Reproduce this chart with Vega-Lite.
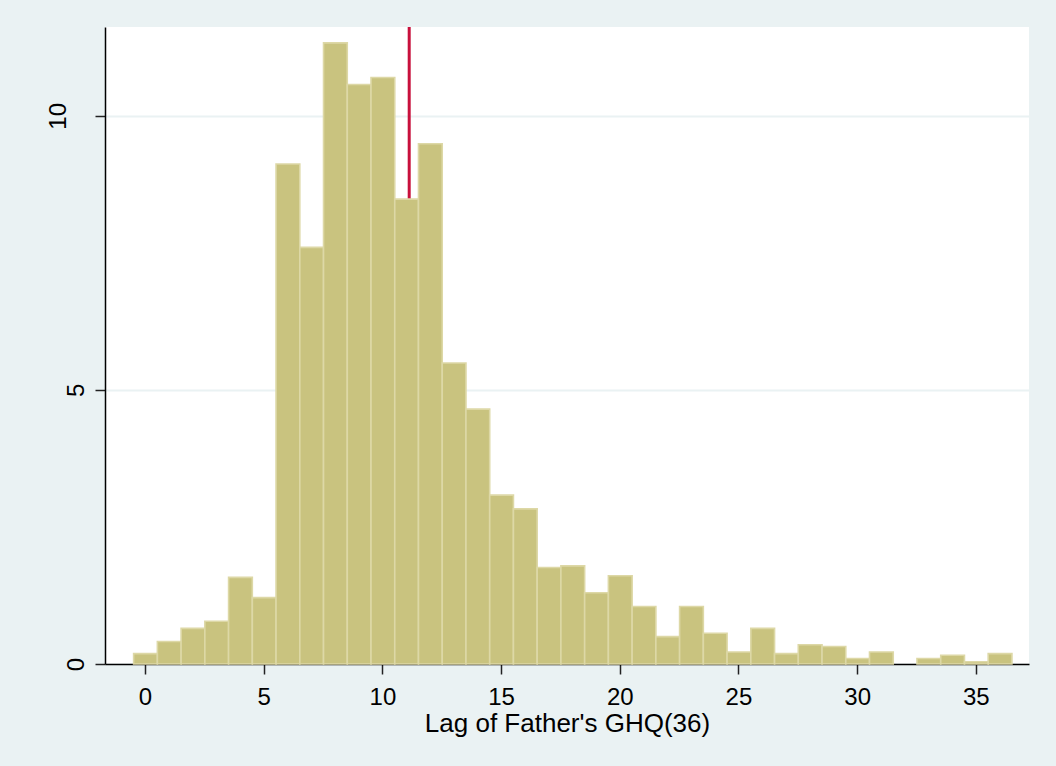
{
  "$schema": "https://vega.github.io/schema/vega-lite/v6.json",
  "autosize": "none",
  "width": 924,
  "height": 637,
  "padding": {"left": 105, "top": 27, "right": 27, "bottom": 102},
  "background": "#EAF2F3",
  "config": {
    "view": {"fill": "white", "stroke": null},
    "font": "Liberation Sans",
    "axis": {
      "labelFont": "Liberation Sans",
      "titleFont": "Liberation Sans",
      "labelColor": "black",
      "titleColor": "black",
      "domainColor": "black",
      "domainWidth": 1.5,
      "tickColor": "#222222",
      "tickWidth": 1.5
    }
  },
  "datasets": {
    "bins": [
      {"lo": -0.5, "hi": 0.5, "pct": 0.19},
      {"lo": 0.5, "hi": 1.5, "pct": 0.41},
      {"lo": 1.5, "hi": 2.5, "pct": 0.65},
      {"lo": 2.5, "hi": 3.5, "pct": 0.78},
      {"lo": 3.5, "hi": 4.5, "pct": 1.58},
      {"lo": 4.5, "hi": 5.5, "pct": 1.21},
      {"lo": 5.5, "hi": 6.5, "pct": 9.12},
      {"lo": 6.5, "hi": 7.5, "pct": 7.60},
      {"lo": 7.5, "hi": 8.5, "pct": 11.33},
      {"lo": 8.5, "hi": 9.5, "pct": 10.57},
      {"lo": 9.5, "hi": 10.5, "pct": 10.70},
      {"lo": 10.5, "hi": 11.5, "pct": 8.48},
      {"lo": 11.5, "hi": 12.5, "pct": 9.49},
      {"lo": 12.5, "hi": 13.5, "pct": 5.49},
      {"lo": 13.5, "hi": 14.5, "pct": 4.65},
      {"lo": 14.5, "hi": 15.5, "pct": 3.08},
      {"lo": 15.5, "hi": 16.5, "pct": 2.83},
      {"lo": 16.5, "hi": 17.5, "pct": 1.76},
      {"lo": 17.5, "hi": 18.5, "pct": 1.79},
      {"lo": 18.5, "hi": 19.5, "pct": 1.30},
      {"lo": 19.5, "hi": 20.5, "pct": 1.61},
      {"lo": 20.5, "hi": 21.5, "pct": 1.05},
      {"lo": 21.5, "hi": 22.5, "pct": 0.50},
      {"lo": 22.5, "hi": 23.5, "pct": 1.05},
      {"lo": 23.5, "hi": 24.5, "pct": 0.56},
      {"lo": 24.5, "hi": 25.5, "pct": 0.22},
      {"lo": 25.5, "hi": 26.5, "pct": 0.65},
      {"lo": 26.5, "hi": 27.5, "pct": 0.19},
      {"lo": 27.5, "hi": 28.5, "pct": 0.35},
      {"lo": 28.5, "hi": 29.5, "pct": 0.32},
      {"lo": 29.5, "hi": 30.5, "pct": 0.10},
      {"lo": 30.5, "hi": 31.5, "pct": 0.22},
      {"lo": 32.5, "hi": 33.5, "pct": 0.10},
      {"lo": 33.5, "hi": 34.5, "pct": 0.16},
      {"lo": 34.5, "hi": 35.5, "pct": 0.04},
      {"lo": 35.5, "hi": 36.5, "pct": 0.19}
    ],
    "mean": [{"ghq": 11.13}]
  },
  "layer": [
    {
      "data": {"name": "mean"},
      "mark": {"type": "rule", "color": "#C8103C", "strokeWidth": 3},
      "encoding": {
        "x": {"field": "ghq", "type": "quantitative", "scale": {"domain": [-1.685, 37.24], "nice": false, "zero": false}}
      }
    },
    {
      "data": {"name": "bins"},
      "mark": {"type": "rect", "fill": "#C9C37F", "stroke": "#DDD8A6", "strokeWidth": 1.6},
      "encoding": {
        "x": {
          "field": "lo",
          "type": "quantitative",
          "bin": {"binned": true},
          "scale": {"domain": [-1.685, 37.24], "nice": false, "zero": false},
          "axis": {
            "values": [0, 5, 10, 15, 20, 25, 30, 35],
            "grid": false,
            "tickSize": 10,
            "labelPadding": 11,
            "labelFontSize": 24,
            "labelFlush": false,
            "title": "Lag of Father's GHQ(36)",
            "titleFontSize": 26,
            "titleFontWeight": "normal",
            "titlePadding": 1
          }
        },
        "x2": {"field": "hi"},
        "y": {
          "field": "pct",
          "type": "quantitative",
          "scale": {"domain": [0, 11.62], "nice": false},
          "axis": {
            "values": [0, 5, 10],
            "grid": true,
            "gridColor": "#EAF2F3",
            "gridWidth": 2,
            "tickSize": 10,
            "labelAngle": -90,
            "labelAlign": "center",
            "labelBaseline": "bottom",
            "labelFontSize": 24,
            "labelFlush": false,
            "labelPadding": {"condition": {"test": "datum.value === 10", "value": 25}, "value": 7},
            "title": null
          }
        }
      }
    }
  ]
}
